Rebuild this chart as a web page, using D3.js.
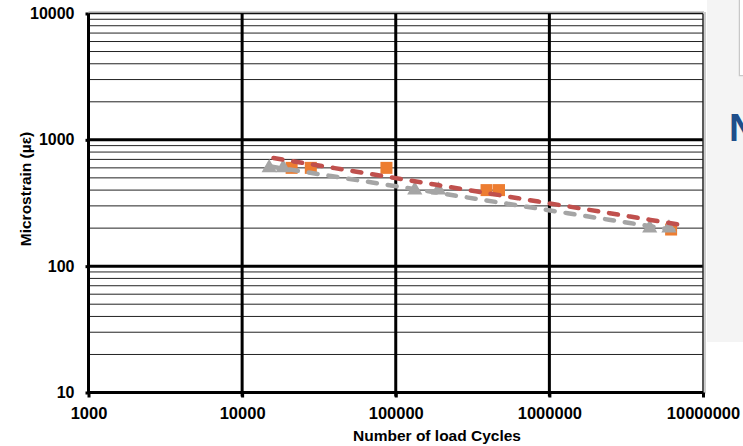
<!DOCTYPE html>
<html>
<head>
<meta charset="utf-8">
<script src="https://cdn.jsdelivr.net/npm/d3@7"></script>
<style>
  html, body { margin: 0; padding: 0; background: #fff; }
  svg { display: block; font-family: "Liberation Sans", Arial, sans-serif; }
</style>
</head>
<body>
<svg id="chart"></svg>
<script>
// axis ticks
const xTicks = [1000, 10000, 100000, 1000000, 10000000];
const yTicks = [10, 100, 1000, 10000];

// orange squares
const squareCycles = [21000, 28000, 87000, 390000, 470000, 6200000];
const squareStrain = [600, 600, 600, 400, 400, 195];

// grey triangles
const triCycles = [15000, 18500, 133000, 190000, 4500000, 6000000];
const triStrain = [600, 600, 400, 400, 200, 200];

// span of the power trendlines
const squareTrendSpan = [16000, 7200000];
const triTrendSpan = [15000, 7200000];

const WIDTH = 743, HEIGHT = 446;
const svg = d3.select('#chart').attr('width', WIDTH).attr('height', HEIGHT);

// slide fragments on the right
svg.append('rect').attr('x', 707).attr('y', 0).attr('width', 36).attr('height', 342).attr('fill', '#f4f4f4');
svg.append('path').attr('d', 'M739.5,0V75.5H743').attr('fill', 'none').attr('stroke', '#c8c8c8').attr('stroke-width', 1.5);
svg.append('rect').attr('x', 740).attr('y', 0).attr('width', 3).attr('height', 75).attr('fill', '#fff');
svg.append('text').attr('x', 729).attr('y', 141).attr('font-size', 38).attr('font-weight', 'bold')
  .attr('fill', '#1f4e8a').text('N');

const x = d3.scaleLog().domain([1000, 10000000]).range([88.5, 703]);
const y = d3.scaleLog().domain([10, 10000]).range([392.5, 13.5]);

// plot background
svg.append('rect').attr('x', 88).attr('y', 13).attr('width', 616).attr('height', 380).attr('fill', '#fff');

// minor horizontal gridlines
const minor = y.ticks().filter(v => !yTicks.includes(v));
svg.append('g').selectAll('line').data(minor).join('line')
  .attr('x1', x(1000)).attr('x2', x(10000000))
  .attr('y1', d => y(d)).attr('y2', d => y(d))
  .attr('stroke', '#222').attr('stroke-width', 1);

// top border
svg.append('line').attr('x1', x(1000)).attr('x2', x(10000000) + 1)
  .attr('y1', y(10000) - 1.5).attr('y2', y(10000) - 1.5).attr('stroke', '#9a9a9a').attr('stroke-width', 1);
svg.append('line').attr('x1', x(1000)).attr('x2', x(10000000))
  .attr('y1', y(10000)).attr('y2', y(10000)).attr('stroke', '#111').attr('stroke-width', 1.5);

// major horizontal gridlines
svg.append('g').selectAll('line').data([100, 1000]).join('line')
  .attr('x1', x(1000)).attr('x2', x(10000000))
  .attr('y1', d => y(d)).attr('y2', d => y(d))
  .attr('stroke', '#000').attr('stroke-width', 3);

// vertical gridlines (decades) with little ticks under the axis
svg.append('g').selectAll('line').data(xTicks.slice(1, -1)).join('line')
  .attr('x1', d => x(d)).attr('x2', d => x(d))
  .attr('y1', y(10000)).attr('y2', y(10) + 4)
  .attr('stroke', '#000').attr('stroke-width', 3);

// right border
svg.append('line').attr('x1', x(10000000)).attr('x2', x(10000000))
  .attr('y1', y(10000)).attr('y2', y(10) + 4).attr('stroke', '#222').attr('stroke-width', 1.5);
svg.append('line').attr('x1', x(10000000) + 2).attr('x2', x(10000000) + 2)
  .attr('y1', y(10000) - 1.5).attr('y2', y(10) + 1).attr('stroke', '#9a9a9a').attr('stroke-width', 1);

// axes
const xAxis = svg.append('g')
  .attr('transform', `translate(0,${y(10)})`)
  .call(d3.axisBottom(x).tickValues(xTicks).tickFormat(d3.format('d')).tickSize(5).tickPadding(10));
xAxis.select('.domain').attr('stroke-width', 3).attr('d', `M${x(1000)},0H${x(10000000)}`);
xAxis.selectAll('.tick line').attr('stroke-width', 3);
xAxis.selectAll('text').attr('font-size', 16.5).attr('font-weight', 'bold').attr('fill', '#000')
  .attr('font-family', '"Liberation Sans", Arial, sans-serif');

const yAxis = svg.append('g')
  .attr('transform', `translate(${x(1000)},0)`)
  .call(d3.axisLeft(y).tickValues(yTicks).tickFormat(d3.format('d')).tickSize(3).tickPadding(11));
yAxis.select('.domain').attr('stroke-width', 3).attr('d', `M0,${y(10000)}V${y(10) + 1.5}`);
yAxis.selectAll('.tick line').attr('stroke-width', 3);
yAxis.selectAll('text').attr('font-size', 16).attr('font-weight', 'bold').attr('fill', '#000')
  .attr('font-family', '"Liberation Sans", Arial, sans-serif');

// axis titles
svg.append('text').attr('x', 437).attr('y', 441).attr('text-anchor', 'middle')
  .attr('font-size', 15.5).attr('font-weight', 'bold').text('Number of load Cycles');
svg.append('text').attr('transform', 'translate(31,189) rotate(-90)').attr('text-anchor', 'middle')
  .attr('font-size', 15.5).attr('font-weight', 'bold').text('Microstrain (µε)');

// markers
const squares = squareCycles.map((c, i) => ({c, s: squareStrain[i]}));
const tris = triCycles.map((c, i) => ({c, s: triStrain[i]}));

svg.append('g').selectAll('rect').data(squares).join('rect')
  .attr('x', d => x(d.c) - 6).attr('y', d => y(d.s) - 6)
  .attr('width', 12).attr('height', 12).attr('fill', '#ed7d31');

svg.append('g').selectAll('path').data(tris).join('path')
  .attr('transform', d => `translate(${x(d.c)},${y(d.s)})`)
  .attr('d', d3.symbol(d3.symbolTriangle, 100))
  .attr('fill', '#a5a5a5');

// power trendlines (least squares in log-log space)
function powerFit(xs, ys) {
  const lx = xs.map(Math.log10), ly = ys.map(Math.log10);
  const mx = d3.mean(lx), my = d3.mean(ly);
  const b = d3.sum(lx, (v, i) => (v - mx) * (ly[i] - my)) / d3.sum(lx, v => (v - mx) ** 2);
  const a = my - b * mx;
  return v => Math.pow(10, a + b * Math.log10(v));
}

const line = d3.line().x(d => x(d[0])).y(d => y(d[1]));
function trend(xs, ys, span, color) {
  const f = powerFit(xs, ys);
  const pts = d3.range(0, 41).map(i => {
    const v = Math.pow(10, Math.log10(span[0]) + i / 40 * (Math.log10(span[1]) - Math.log10(span[0])));
    return [v, f(v)];
  });
  svg.append('path').datum(pts).attr('d', line)
    .attr('fill', 'none').attr('stroke', color).attr('stroke-width', 4.5)
    .attr('stroke-dasharray', '9,11').attr('stroke-linecap', 'round');
}
trend(triCycles, triStrain, triTrendSpan, '#a5a5a5');
trend(squareCycles, squareStrain, squareTrendSpan, '#c0504d');
</script>
</body>
</html>
